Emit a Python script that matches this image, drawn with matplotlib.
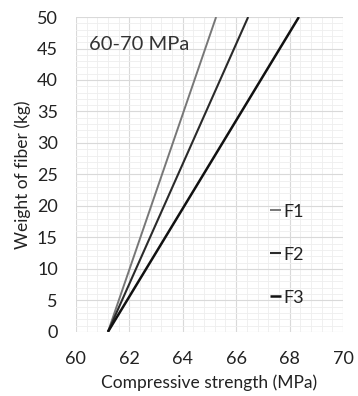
import matplotlib
matplotlib.use("Agg")
import matplotlib.pyplot as plt
from matplotlib.ticker import MultipleLocator

series = ["F1", "F2", "F3"]
strength_start = [61.2, 61.2, 61.2]
strength_end = [65.25, 66.45, 68.35]
weight_start = [0, 0, 0]
weight_end = [50, 50, 50]
colors = ["#777777", "#2a2a2a", "#111111"]
widths = [1.4, 1.5, 1.8]

plt.rcParams['font.family'] = ['Lato', 'DejaVu Sans']

fig = plt.figure(figsize=(3.58, 3.96), dpi=100)
ax = fig.add_axes([0.212, 0.162, 0.746, 0.795])

for s, x0, x1, y0, y1, c, w in zip(series, strength_start, strength_end, weight_start, weight_end, colors, widths):
    ax.plot([x0, x1], [y0, y1], color=c, lw=w, label=s, solid_capstyle='butt')

ax.set_xlim(60, 70)
ax.set_ylim(0, 50)
ax.xaxis.set_major_locator(MultipleLocator(2))
ax.xaxis.set_minor_locator(MultipleLocator(0.4))
ax.yaxis.set_major_locator(MultipleLocator(5))
ax.yaxis.set_minor_locator(MultipleLocator(1))
ax.grid(which='major', color='#d9d9d9', lw=0.8)
ax.grid(which='minor', color='#eeeeee', lw=0.6)
ax.set_axisbelow(True)
for sp in ax.spines.values():
    sp.set_visible(False)
ax.tick_params(which='both', length=0, labelsize=13, colors='#222222')
ax.tick_params(axis='x', pad=14)
ax.tick_params(axis='y', pad=13)

ax.set_xlabel("Compressive strength (MPa)", fontsize=12.5, color='#222222', labelpad=5)
ax.set_ylabel("Weight of fiber (kg)", fontsize=12.5, color='#222222', labelpad=4)
ax.text(0.05, 0.914, "60-70 MPa", transform=ax.transAxes, fontsize=14.5, color='#333333', va='center')

leg = ax.legend(loc='center left', bbox_to_anchor=(0.665, 0.245), frameon=False,
                handlelength=0.6, handletextpad=0.15, labelspacing=1.5, fontsize=13)
for t in leg.get_texts():
    t.set_color('#222222')

fig.savefig("out.png", dpi=100, facecolor='white')
